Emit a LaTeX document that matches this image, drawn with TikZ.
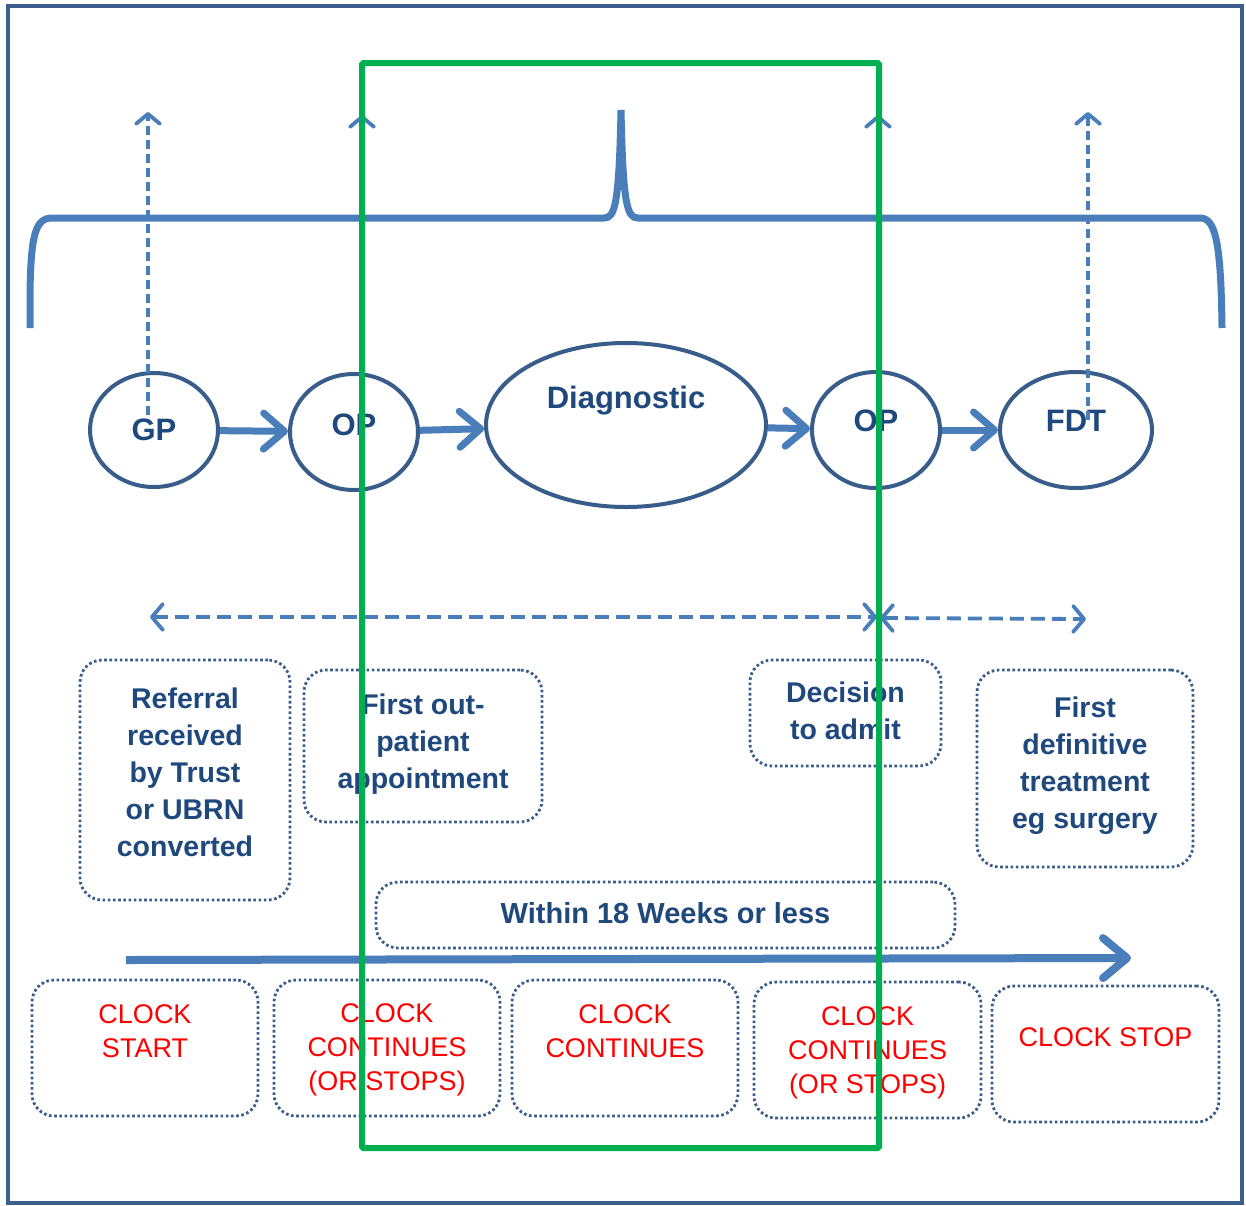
\documentclass[tikz,border=0pt]{standalone}
\usepackage{fontspec}
\setmainfont{Liberation Sans}
\usetikzlibrary{arrows.meta,shapes.geometric}

\definecolor{frameblue}{HTML}{3B5E8C}
\definecolor{ringblue}{HTML}{385D8A}
\definecolor{arrowblue}{HTML}{4A7EBB}
\definecolor{textblue}{HTML}{1F497D}
\definecolor{windowgreen}{HTML}{00B050}
\definecolor{clockred}{HTML}{FF0000}

\tikzset{
  outerframe/.style={draw=frameblue, line width=3.5pt},
  stage/.style={ellipse, draw=ringblue, line width=4pt, inner sep=0pt},
  etext/.style={text=textblue, font=\fontsize{31}{36}\selectfont\bfseries},
  flow/.style={draw=arrowblue, line width=7pt, -{Straight Barb[round,length=21pt,width=36pt]}},
  vdash/.style={draw=arrowblue, line width=3.8pt, dash pattern=on 9pt off 5pt,
    -{Straight Barb[round,length=10pt,width=24pt]}},
  hdash/.style={draw=arrowblue, line width=3.8pt, dash pattern=on 14pt off 7pt,
    {Straight Barb[round,length=11pt,width=26pt]}-{Straight Barb[round,length=11pt,width=26pt]}},
  dbox/.style={draw=ringblue, line width=2.8pt, dash pattern=on 2.6pt off 2.6pt,
    rounded corners=22pt, inner sep=0pt},
  btext/.style={text=textblue, font=\fontsize{28.5}{37}\selectfont\bfseries, align=center},
  rtext/.style={text=clockred, font=\fontsize{27}{34}\selectfont, align=center},
  timeline/.style={draw=arrowblue, line width=8pt, -{Straight Barb[round,length=24pt,width=40pt]}},
  brace/.style={draw=arrowblue, line width=7pt},
  window/.style={draw=windowgreen, line width=6pt, rounded corners=1.5pt, inner sep=0pt},
}

\begin{document}
\begin{tikzpicture}[x=1pt,y=-1pt]
\useasboundingbox (0,0) rectangle (1246,1205);
\fill[white] (0,0) rectangle (1246,1205);

% outer frame
\node[outerframe, minimum width=1234pt, minimum height=1197pt, inner sep=0pt] (frame) at (625,604.5) {};

% curly brace over the pathway
\draw[brace] (30,328) -- (30,292) .. controls (31,236) and (35,218) .. (52,218)
  -- (604,218) .. controls (615,218) and (619,205) .. (621,110)
  .. controls (623,205) and (627,218) .. (638,218)
  -- (1200,218) .. controls (1215,218) and (1221,240) .. (1222,328);

% pathway stages
\node[stage, minimum width=128pt, minimum height=114pt,
      label={[etext]center:GP}] (gp) at (154,430) {};
\node[stage, minimum width=128pt, minimum height=116pt,
      label={[etext, yshift=7pt]center:OP}] (op1) at (354,432) {};
\node[stage, minimum width=280pt, minimum height=164pt,
      label={[etext, yshift=24pt]center:Diagnostic}] (diag) at (626,425) {};
\node[stage, minimum width=128pt, minimum height=116pt,
      label={[etext, yshift=9pt]center:OP}] (op2) at (876,430) {};
\node[stage, minimum width=152pt, minimum height=116pt,
      label={[etext, yshift=9pt]center:FDT}] (fdt) at (1076,430) {};

\draw[flow] (gp) -- (op1);
\draw[flow] (op1) -- (diag);
\draw[flow] (diag) -- (op2);
\draw[flow] (op2) -- (fdt);

% dashed markers up to the brace
\coordinate (gpup) at (148,112);
\coordinate (op1up) at (362,115);
\coordinate (op2up) at (878,115);
\coordinate (fdtup) at (1088,112);
\draw[vdash] ([xshift=-6pt,yshift=15pt]gp.center) -- (gpup);
\draw[vdash] ([xshift=8pt,yshift=10pt]op1.center) -- (op1up);
\draw[vdash] ([xshift=2pt,yshift=10pt]op2.center) -- (op2up);
\draw[vdash] ([xshift=12pt,yshift=10pt]fdt.center) -- (fdtup);

% dashed spans
\coordinate (hl) at (150,617);
\coordinate (hm) at (877,617);
\coordinate (hn) at (880,618);
\coordinate (hr) at (1086,619);
\draw[hdash] (hl) -- (hm);
\draw[hdash] (hn) -- (hr);

% milestone boxes
\node[dbox, minimum width=210pt, minimum height=240pt,
      label={[btext, yshift=8pt]center:Referral\\received\\by Trust\\or UBRN\\converted}] (referral) at (185,780) {};
\node[dbox, minimum width=238pt, minimum height=152pt,
      label={[btext, yshift=2pt]center:First out-\\patient\\appointment}] (firstop) at (423,746) {};
\node[dbox, minimum width=191pt, minimum height=106pt,
      label={[btext, yshift=2pt]center:Decision\\to admit}] (decision) at (845.5,713) {};
\node[dbox, minimum width=216pt, minimum height=197pt,
      label={[btext, yshift=3pt]center:First\\definitive\\treatment\\eg surgery}] (fdtbox) at (1085,768.5) {};
\node[dbox, minimum width=579pt, minimum height=66pt,
      label={[btext, font=\fontsize{29}{36}\selectfont\bfseries, yshift=2pt]center:Within 18 Weeks or less}] (within) at (665.5,915) {};

% timeline
\coordinate (tstart) at (126,960);
\coordinate (tend) at (1131,958);
\draw[timeline] (tstart) -- (tend);

% clock states
\node[dbox, minimum width=226pt, minimum height=136pt,
      label={[rtext, yshift=17pt]center:CLOCK\\START}] (c1) at (145,1048) {};
\node[dbox, minimum width=226pt, minimum height=136pt,
      label={[rtext, yshift=-2pt]center:CLOCK\\CONTINUES\\(OR STOPS)}] (c2) at (387,1048) {};
\node[dbox, minimum width=226pt, minimum height=136pt,
      label={[rtext, yshift=17pt]center:CLOCK\\CONTINUES}] (c3) at (625,1048) {};
\node[dbox, minimum width=227pt, minimum height=136pt,
      label={[rtext, yshift=-3pt]center:CLOCK\\CONTINUES\\(OR STOPS)}] (c4) at (867.5,1050) {};
\node[dbox, minimum width=227pt, minimum height=136pt,
      label={[rtext, yshift=17pt]center:CLOCK STOP}] (c5) at (1105.5,1054) {};

% highlighted window
\node[window, minimum width=517pt, minimum height=1085pt] (focus) at (620.5,605.5) {};
\end{tikzpicture}
\end{document}
